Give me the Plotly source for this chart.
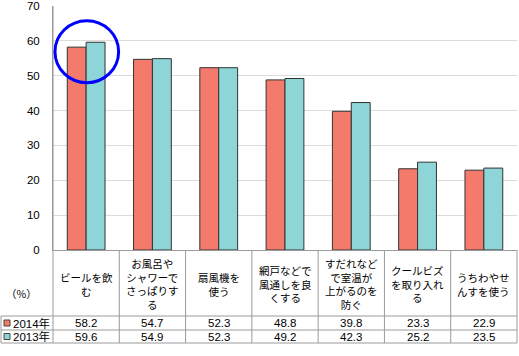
import plotly.graph_objects as go

categories = ["ビールを飲<br>む", "お風呂や<br>シャワーで<br>さっぱりす<br>る", "扇風機を<br>使う",
              "網戸などで<br>風通しを良<br>くする", "すだれなど<br>で室温が<br>上がるのを<br>防ぐ",
              "クールビズ<br>を取り入れ<br>る", "うちわやせ<br>んすを使う"]
series_names = ["2014年", "2013年"]
values_2014 = [58.2, 54.7, 52.3, 48.8, 39.8, 23.3, 22.9]
values_2013 = [59.6, 54.9, 52.3, 49.2, 42.3, 25.2, 23.5]
y_ticks = [0, 10, 20, 30, 40, 50, 60, 70]

COL_A = "#F47A6C"
COL_B = "#8DD5D6"
FONT = "Noto Sans CJK JP"
NFONT = "Liberation Sans, Noto Sans CJK JP"

W, H = 519, 356
L, R, T, B = 53, 2, 6, 106
PW = W - L - R
PH = H - T - B

def px(x):
    return (x - L) / PW

def py(y):
    return (H - B - y) / PH

fig = go.Figure()
xs = list(range(len(categories)))
for name, vals, col in [(series_names[0], values_2014, COL_A), (series_names[1], values_2013, COL_B)]:
    fig.add_trace(go.Bar(x=xs, y=vals, name=name, hoverinfo="skip",
                         marker=dict(color=col, line=dict(color="#333333", width=1))))

shapes = []
annotations = []
line_col = "#9a9a9a"
y_axis_px = H - B
row1 = 316
row2 = 330
row3 = 343
for yy in (row1, row2, row3):
    shapes.append(dict(type="line", xref="paper", yref="paper", x0=px(1), x1=px(W - R), y0=py(yy), y1=py(yy),
                       line=dict(color=line_col, width=1)))
shapes.append(dict(type="line", xref="paper", yref="paper", x0=px(1), x1=px(1), y0=py(row1), y1=py(row3),
                   line=dict(color=line_col, width=1)))
shapes.append(dict(type="line", xref="paper", yref="paper", x0=0, x1=0, y0=py(row3), y1=1,
                   line=dict(color=line_col, width=1)))
n = len(categories)
for k in range(1, n + 1):
    xx = k / n
    shapes.append(dict(type="line", xref="paper", yref="paper", x0=xx, x1=xx, y0=py(row3), y1=0,
                       line=dict(color=line_col, width=1)))

cf = dict(size=10.5, color="#000", family=FONT)
tf = dict(size=11.5, color="#000", family=NFONT)
for i, c in enumerate(categories):
    xc = (i + 0.5) / n
    annotations.append(dict(xref="paper", yref="paper", x=xc, y=py((y_axis_px + row1) / 2 + 1), text=c,
                            xanchor="center", yanchor="middle", align="center", showarrow=False, font=cf))
    annotations.append(dict(xref="paper", yref="paper", x=xc, y=py((row1 + row2) / 2), text=f"{values_2014[i]:.1f}",
                            xanchor="center", yanchor="middle", showarrow=False, font=tf))
    annotations.append(dict(xref="paper", yref="paper", x=xc, y=py((row2 + row3) / 2), text=f"{values_2013[i]:.1f}",
                            xanchor="center", yanchor="middle", showarrow=False, font=tf))

for (yy0, yy1), name, col in [((row1, row2), series_names[0], COL_A), ((row2, row3), series_names[1], COL_B)]:
    yc = (yy0 + yy1) / 2
    shapes.append(dict(type="rect", xref="paper", yref="paper", x0=px(4), x1=px(10), y0=py(yc + 3), y1=py(yc - 3),
                       fillcolor=col, line=dict(color="#444", width=1)))
    annotations.append(dict(xref="paper", yref="paper", x=px(11), y=py(yc), text=name, xanchor="left",
                            yanchor="middle", showarrow=False, font=tf))

annotations.append(dict(xref="paper", yref="paper", x=px(21), y=py(293), text="（%）", xanchor="center",
                        yanchor="middle", showarrow=False, font=cf))

shapes.append(dict(type="circle", xref="x", yref="y", x0=-0.47, x1=0.49, y0=48.0, y1=65.8,
                   line=dict(color="#0000FF", width=3)))

fig.update_layout(
    width=W, height=H,
    margin=dict(l=L, r=R, t=T, b=B),
    paper_bgcolor="white", plot_bgcolor="white",
    barmode="group", bargap=0.43, bargroupgap=0,
    showlegend=False,
    shapes=shapes, annotations=annotations,
    font=dict(family=FONT, size=11, color="#000"),
    xaxis=dict(range=[-0.5, n - 0.5], showticklabels=False, ticks="", showgrid=False, automargin=False,
               showline=True, linecolor=line_col, linewidth=1, zeroline=False),
    yaxis=dict(range=[0, 70], tickvals=y_ticks, showgrid=True, gridcolor="#dcdcdc", gridwidth=1,
               showline=True, linecolor=line_col, linewidth=1, zeroline=False, ticks="", automargin=False,
               ticklabelstandoff=10, ticklabeloverflow="allow",
               tickfont=dict(size=11.5, color="#000", family=NFONT)),
)

fig.write_html("out.html", config={"displayModeBar": False, "staticPlot": True},
               post_script="document.body.style.margin='0';document.body.style.overflow='hidden';")
